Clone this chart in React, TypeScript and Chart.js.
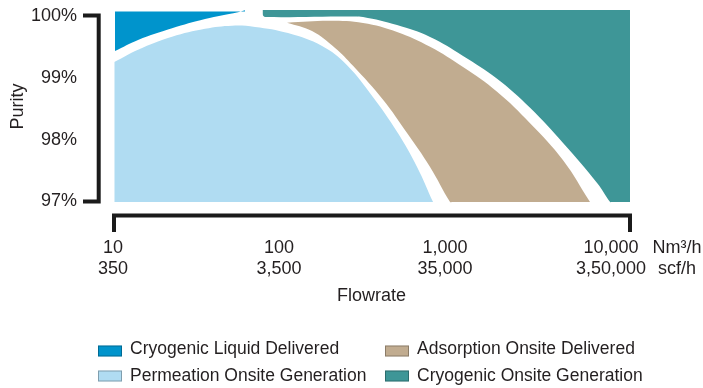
import React, { useEffect, useRef } from 'react';
import { Chart, registerables } from 'chart.js';

Chart.register(...registerables);

const FONT = '"Liberation Sans", Arial, Helvetica, sans-serif';
const TEXT = '#231f20';
const INK = '#1b1b1b';

// Series (legend order: row by row, two columns)
const seriesNames = [
  'Cryogenic Liquid Delivered',
  'Adsorption Onsite Delivered',
  'Permeation Onsite Generation',
  'Cryogenic Onsite Generation',
];
const seriesColors = ['#0094cc', '#c1ac90', '#b0dcf2', '#3e9697'];

// Axes
const flowTicks = [10, 100, 1000, 10000];
const flowTickNm = ['10', '100', '1,000', '10,000'];
const flowTickScf = ['350', '3,500', '35,000', '3,50,000'];
const flowUnits = ['Nm³/h', 'scf/h'];
const flowMin = 10;
const flowMax = 13000;
const purityTicks = [97, 98, 99, 100];
const purityMin = 96.975;
const purityMax = 100.105;

// Cryogenic Liquid Delivered: lower boundary, filled up to the ceiling
const liquidFlow = [10.28, 14.15, 22.67, 35.83, 56.62, 62.41];
const liquidPurity = [99.44, 99.62, 99.81, 99.96, 100.07, 100.1];
const liquidCeiling = 100.08;

// Permeation Onsite Generation: upper boundary, filled down to the floor
const permeationFlow = [10.18, 14.15, 22.67, 35.83, 52.11, 71.71, 113.3, 181.6, 256.8, 368.5, 513.8, 678.2, 846.7];
const permeationPurity = [99.26, 99.46, 99.67, 99.8, 99.85, 99.83, 99.73, 99.52, 99.21, 98.69, 98.13, 97.56, 96.99];
const purityFloor = 96.99;

// Adsorption Onsite Delivered: upper and lower boundaries
const adsorptionTopFlow = [111.7, 202.9, 320.6, 513.8, 812.1, 1283, 2057, 3251, 5138, 7473];
const adsorptionTopPurity = [99.9, 99.93, 99.895, 99.75, 99.51, 99.18, 98.78, 98.27, 97.67, 96.99];
const adsorptionLowFlow = [111.7, 158.0, 217.5, 279.1, 423.2, 590.3, 812.1, 1072, 1100, 7473];
const adsorptionLowPurity = [99.9, 99.765, 99.49, 99.2, 98.65, 98.11, 97.56, 96.99, 96.99, 96.99];

// Cryogenic Onsite Generation: lower boundary, filled up to the top
const onsiteFlow = [79.56, 80.1, 83.5, 267.7, 320.6, 513.8, 812.1, 1283, 2057, 3251, 5138, 8236, 9863, 10070, 13000];
const onsitePurity = [100.048, 100.016, 99.99, 100.0, 99.99, 99.86, 99.667, 99.36, 98.99, 98.52, 97.95, 97.3, 96.99, 96.99, 96.99];

const pts = (xs: number[], ys: number[]) => xs.map((x, i) => ({ x, y: ys[i] }));

const decorPlugin = {
  id: 'decor',
  afterDraw(chart: any) {
    const { ctx, chartArea } = chart;
    const xs = chart.scales.x;
    const ys = chart.scales.y;
    ctx.save();
    ctx.strokeStyle = INK;
    ctx.lineWidth = 4;
    ctx.lineCap = 'butt';
    ctx.lineJoin = 'miter';

    // y bracket
    const yTop = ys.getPixelForValue(purityTicks[purityTicks.length - 1]) - 1;
    const yBot = ys.getPixelForValue(purityTicks[0]);
    const bxY = chartArea.left - 14.3;
    ctx.beginPath();
    ctx.moveTo(chartArea.left - 30, yTop);
    ctx.lineTo(bxY, yTop);
    ctx.lineTo(bxY, yBot);
    ctx.lineTo(chartArea.left - 30, yBot);
    ctx.stroke();

    // x bracket
    const lineY = chartArea.bottom + 12.5;
    const xl = xs.getPixelForValue(flowMin) + 1;
    const xr = xs.right;
    ctx.beginPath();
    ctx.moveTo(xl, lineY + 16.5);
    ctx.lineTo(xl, lineY);
    ctx.lineTo(xr, lineY);
    ctx.lineTo(xr, lineY + 16.5);
    ctx.stroke();

    // units
    ctx.fillStyle = TEXT;
    ctx.font = `18px ${FONT}`;
    ctx.textAlign = 'center';
    ctx.textBaseline = 'middle';
    const firstLine = chartArea.bottom + 34 + 10.8;
    flowUnits.forEach((u, i) => ctx.fillText(u, xr + 47, firstLine + i * 21.6));

    // legend
    const cols = [98, 385];
    const boxTops = [345.5, 370.5];
    const baselines = [354, 381];
    ctx.font = `17.5px ${FONT}`;
    ctx.textAlign = 'left';
    ctx.textBaseline = 'alphabetic';
    ctx.lineWidth = 1;
    seriesNames.forEach((name, i) => {
      const c = i % 2;
      const r = Math.floor(i / 2);
      ctx.fillStyle = seriesColors[i];
      ctx.fillRect(cols[c], boxTops[r], 24, 11);
      ctx.strokeStyle = 'rgba(0,0,0,0.28)';
      ctx.strokeRect(cols[c] + 0.5, boxTops[r] + 0.5, 23, 10);
      ctx.fillStyle = TEXT;
      ctx.fillText(name, cols[c] + 32, baselines[r]);
    });
    ctx.restore();
  },
};

const common = {
  borderWidth: 0,
  borderColor: 'transparent',
  pointRadius: 0,
  pointHoverRadius: 0,
  tension: 0.4,
};

export default function App() {
  const ref = useRef<HTMLCanvasElement>(null);
  useEffect(() => {
    if (!ref.current) return;
    Chart.defaults.font.family = FONT;
    const chart = new Chart(ref.current, {
      type: 'line',
      data: {
        datasets: [
          { label: seriesNames[0], data: pts(liquidFlow, liquidPurity), backgroundColor: seriesColors[0], fill: { value: liquidCeiling }, ...common },
          { label: seriesNames[1], data: pts(adsorptionTopFlow, adsorptionTopPurity), backgroundColor: seriesColors[1], fill: '+1', ...common },
          { label: 'Adsorption lower boundary', data: pts(adsorptionLowFlow, adsorptionLowPurity), backgroundColor: 'transparent', fill: false, ...common },
          { label: seriesNames[2], data: pts(permeationFlow, permeationPurity), backgroundColor: seriesColors[2], fill: { value: purityFloor }, ...common },
          { label: seriesNames[3], data: pts(onsiteFlow, onsitePurity), backgroundColor: seriesColors[3], fill: 'end', ...common },
        ] as any,
      },
      options: {
        animation: false,
        responsive: false,
        devicePixelRatio: 1,
        events: [],
        layout: { padding: { left: 0, top: 10, right: 73, bottom: 75 } },
        plugins: {
          legend: { display: false },
          tooltip: { enabled: false },
          title: { display: false },
        },
        scales: {
          x: {
            type: 'logarithmic',
            min: flowMin,
            max: flowMax,
            grid: { display: false, drawTicks: false },
            border: { display: false },
            afterBuildTicks: (s: any) => {
              s.ticks = flowTicks.map((v) => ({ value: v }));
            },
            afterFit: (s: any) => {
              s.height = 110;
              s.paddingLeft = 0;
              s.paddingRight = 0;
            },
            ticks: {
              autoSkip: false,
              maxRotation: 0,
              minRotation: 0,
              padding: 34,
              color: TEXT,
              font: { family: FONT, size: 18 },
              callback: (_v: any, i: number) => [flowTickNm[i], flowTickScf[i]],
            },
            title: {
              display: true,
              text: 'Flowrate',
              color: TEXT,
              font: { family: FONT, size: 18 },
              padding: { top: 0, bottom: 6 },
            },
          },
          y: {
            type: 'linear',
            min: purityMin,
            max: purityMax,
            grid: { display: false, drawTicks: false },
            border: { display: false },
            afterBuildTicks: (s: any) => {
              s.ticks = purityTicks.map((v) => ({ value: v }));
            },
            afterFit: (s: any) => {
              s.width = 113;
              s.paddingTop = 0;
              s.paddingBottom = 0;
            },
            ticks: {
              padding: 36,
              color: TEXT,
              font: { family: FONT, size: 18 },
              callback: (v: any) => `${v}%`,
            },
            title: {
              display: true,
              text: 'Purity',
              color: TEXT,
              font: { family: FONT, size: 18 },
              padding: { top: 7, bottom: 0 },
            },
          },
        },
      } as any,
      plugins: [decorPlugin],
    });
    return () => chart.destroy();
  }, []);
  return (
    <div style={{ position: 'fixed', left: 0, top: 0, width: 703, height: 388 }}>
      <canvas ref={ref} width={703} height={388} style={{ display: 'block', width: 703, height: 388 }} />
    </div>
  );
}
